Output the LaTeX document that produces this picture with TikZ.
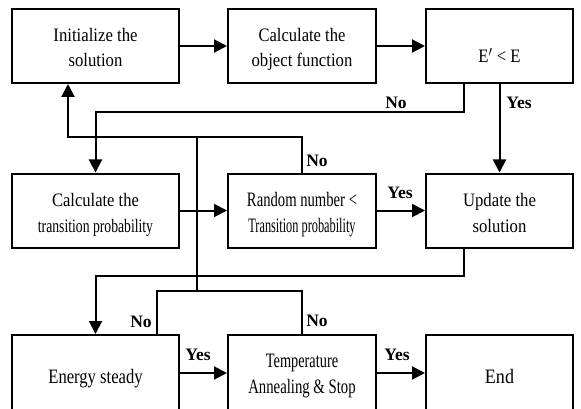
\documentclass[tikz,border=0pt]{standalone}
\usepackage{fontspec}
\setmainfont{Liberation Serif}
\usetikzlibrary{arrows.meta,calc}
\newcommand{\sqz}[2]{\scalebox{#1}[1]{#2}}
\begin{document}
\begin{tikzpicture}[x=1pt,y=-1pt,line width=2pt,
  box/.style={draw,line width=2pt,minimum width=#1,minimum height=74pt,inner sep=0pt},
  lastbox/.style={draw,line width=2pt,minimum width=#1,minimum height=76pt,inner sep=0pt},
  ln/.style={anchor=base,inner sep=0pt,font=\fontsize{19}{22}\selectfont},
  lnbig/.style={anchor=base,inner sep=0pt,font=\fontsize{20.5}{22}\selectfont},
  lab/.style={inner sep=0pt,font=\fontsize{17.5}{20}\selectfont\bfseries},
  arr/.style={-{Triangle[length=13pt,width=13pt]}}]
\useasboundingbox (0,0) rectangle (581,409);
% boxes
\node[box=167pt] (A) at (95.5,46) {};
\node[box=148pt] (B) at (302,46) {};
\node[box=147pt] (C) at (499.5,46) {};
\node[box=167pt] (D) at (95.5,210.5) {};
\node[box=148pt] (E) at (302,210.5) {};
\node[box=147pt] (F) at (499.5,210.5) {};
\node[lastbox=167pt] (G) at (95.5,373) {};
\node[lastbox=148pt] (H) at (302,373) {};
\node[lastbox=147pt] (I) at (499.5,373) {};
% texts
\node[ln] (A1) at ($(A)+(0,-4)$) {\sqz{0.88}{Initialize the}};
\node[ln] (A2) at ($(A)+(0,21)$) {\sqz{0.88}{solution}};
\node[ln] (B1) at ($(B)+(0,-4)$) {\sqz{0.87}{Calculate the}};
\node[ln] (B2) at ($(B)+(0,21)$) {\sqz{0.88}{object function}};
\node[ln] (C1) at ($(C)+(0,17)$) {\sqz{0.88}{E$'$ < E}};
\node[ln] (D1) at ($(D)+(0,-4.5)$) {\sqz{0.87}{Calculate the}};
\node[ln] (D2) at ($(D)+(0,21.5)$) {\sqz{0.72}{transition probability}};
\node[lnbig] (E1) at ($(E)+(0,-4.5)$) {\sqz{0.715}{Random number <}};
\node[lnbig] (E2) at ($(E)+(0,21.5)$) {\sqz{0.60}{Transition probability}};
\node[ln] (F1) at ($(F)+(0,-4.5)$) {\sqz{0.88}{Update the}};
\node[ln] (F2) at ($(F)+(0,21.5)$) {\sqz{0.88}{solution}};
\node[lnbig] (G1) at ($(G)+(0,10)$) {\sqz{0.81}{Energy steady}};
\node[lnbig] (H1) at ($(H)+(0,-6)$) {\sqz{0.70}{Temperature}};
\node[lnbig] (H2) at ($(H)+(0,20)$) {\sqz{0.72}{Annealing \& Stop}};
\node[lnbig] (I1) at ($(I)+(0,10)$) {\sqz{0.88}{End}};
% connectors
\draw[arr] (A) -- (B);
\draw[arr] (B) -- (C);
\draw[arr] ([xshift=-35.5pt]C.south) -- ++(0,28) -| (D.north);
\draw[arr] (C.south) -- (F.north);
\draw[arr] (D) -- (E);
\draw[arr] (E) -- (F);
\draw[arr] (E.north) -- ++(0,-35) -| ([xshift=-27.5pt]A.south);
\coordinate (j1) at (197,137.5);
\coordinate (j2) at (197,291);
\draw (j1) -- (j2);
\draw[arr] ([xshift=-35.5pt]F.south) -- ++(0,27) -| (G.north);
\draw ([xshift=61.5pt]G.north) -- ++(0,-43) -| (H.north);
\draw[arr] (G) -- (H);
\draw[arr] (H) -- (I);
% labels
\node[lab] (n1) at (396,103) {No};
\node[lab] (y1) at (519,103) {Yes};
\node[lab] (n2) at (317,161) {No};
\node[lab] (y2) at (400,193) {Yes};
\node[lab] (n3) at (141,322) {No};
\node[lab] (n4) at (317,321) {No};
\node[lab] (y3) at (198,355) {Yes};
\node[lab] (y4) at (397,355) {Yes};
\end{tikzpicture}
\end{document}
